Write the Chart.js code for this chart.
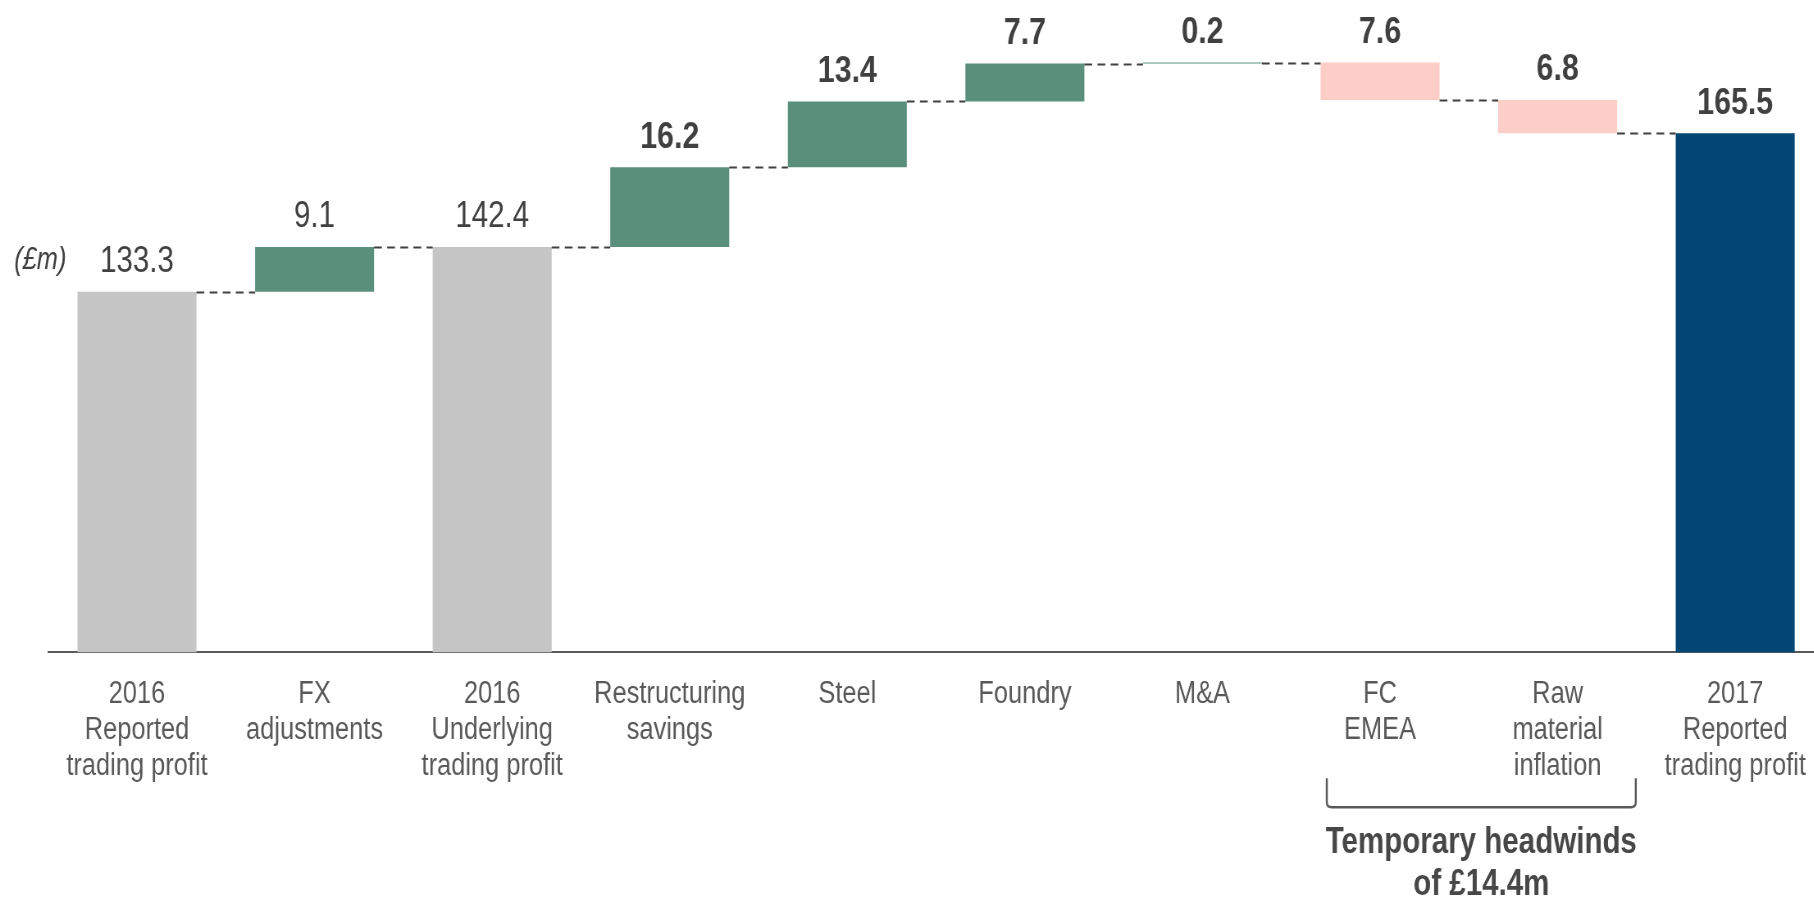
<!DOCTYPE html>
<html>
<head>
<meta charset="utf-8">
<script src="https://cdn.jsdelivr.net/npm/chart.js@4.4.1/dist/chart.umd.min.js"></script>
<style>
  html, body { margin: 0; padding: 0; overflow: hidden; background: #fff; }
  #wrap { width: 1814px; height: 899px; overflow: hidden; }
  /* the reference uses a narrow face: squeeze a regular Arial-metric font horizontally */
  #bridgeChart { transform: scaleX(0.82); transform-origin: 0 0; }
</style>
</head>
<body>
<div id="wrap"><canvas id="bridgeChart" width="2250" height="899"></canvas></div>
<script>
const categories = [
    ['2016', 'Reported', 'trading profit'],
    ['FX', 'adjustments'],
    ['2016', 'Underlying', 'trading profit'],
    ['Restructuring', 'savings'],
    'Steel',
    'Foundry',
    'M&A',
    ['FC', 'EMEA'],
    ['Raw', 'material', 'inflation'],
    ['2017', 'Reported', 'trading profit']
];
const changes = [133.3, 9.1, 142.4, 16.2, 13.4, 7.7, 0.2, -7.6, -6.8, 165.5];
const isTotal = [true, false, true, false, false, false, false, false, false, true];
const boldValue = [false, false, false, true, true, true, true, true, true, true];
const yMin = 60;
const yMax = 188;

const S = 0.82; // horizontal squeeze applied by css
const FONT = "'Liberation Sans', Arial, sans-serif";

// floating bars from a running total
let running = 0;
const floats = changes.map((v, i) => {
    if (isTotal[i]) { running = v; return [0, v]; }
    const start = running;
    running = +(running + v).toFixed(1);
    return [start, running];
});

const colours = changes.map((v, i) => {
    if (isTotal[i]) return i === changes.length - 1 ? '#034674' : '#c5c5c5';
    return v >= 0 ? '#5a8f7b' : '#fdcdc7';
});

const bridgeExtras = {
    id: 'bridgeExtras',
    afterDatasetsDraw(chart) {
        const {ctx, chartArea} = chart;
        const meta = chart.getDatasetMeta(0);
        const y = chart.scales.y;
        const x = chart.scales.x;
        ctx.save();

        // dashed connectors
        ctx.strokeStyle = '#404040';
        ctx.lineWidth = 2;
        ctx.setLineDash([9.5, 6.5]);
        for (let i = 0; i < meta.data.length - 1; i++) {
            const a = meta.data[i], b = meta.data[i + 1];
            const py = Math.round(y.getPixelForValue(floats[i][1])) + 0.5;
            ctx.beginPath();
            ctx.moveTo(a.x + a.width / 2, py);
            ctx.lineTo(b.x - b.width / 2, py);
            ctx.stroke();
        }
        ctx.setLineDash([]);

        // value labels
        ctx.fillStyle = '#404040';
        ctx.textAlign = 'center';
        ctx.textBaseline = 'middle';
        meta.data.forEach((bar, i) => {
            const top = y.getPixelForValue(Math.max(floats[i][0], floats[i][1]));
            ctx.font = (boldValue[i] ? 'bold 37px ' : '36px ') + FONT;
            ctx.fillText(Math.abs(changes[i]).toFixed(1), bar.x, top - 30);
        });

        // unit label
        ctx.font = 'italic 31px ' + FONT;
        ctx.textAlign = 'left';
        ctx.fillText('(£m)', chartArea.left - 41.5, chartArea.top + 238);

        // bracket under the headwinds
        const cw = x.getPixelForValue(1) - x.getPixelForValue(0);
        const bl = x.getPixelForValue(7) - 0.3 * cw;
        const br = x.getPixelForValue(8) + 0.44 * cw;
        const bt = chartArea.bottom + 126;
        const bb = chartArea.bottom + 155;
        ctx.strokeStyle = '#595959';
        ctx.lineWidth = 2.4;
        ctx.beginPath();
        ctx.moveTo(bl, bt);
        ctx.lineTo(bl, bb - 5);
        ctx.quadraticCurveTo(bl, bb, bl + 6, bb);
        ctx.lineTo(br - 6, bb);
        ctx.quadraticCurveTo(br, bb, br, bb - 5);
        ctx.lineTo(br, bt);
        ctx.stroke();

        ctx.fillStyle = '#474747';
        ctx.textAlign = 'center';
        ctx.font = 'bold 36px ' + FONT;
        const cx = (bl + br) / 2;
        ctx.fillText('Temporary headwinds', cx, chartArea.bottom + 191);
        ctx.fillText('of £14.4m', cx, chartArea.bottom + 233);
        ctx.restore();
    }
};

const ctx = document.getElementById('bridgeChart').getContext('2d');
new Chart(ctx, {
    type: 'bar',
    data: {
        labels: categories,
        datasets: [{
            data: floats,
            backgroundColor: colours,
            borderWidth: 0,
            borderSkipped: false,
            categoryPercentage: 1,
            barPercentage: 0.67
        }]
    },
    options: {
        responsive: false,
        animation: false,
        layout: {padding: {left: 48.2 / S, right: 2250 - 1824 / S, top: 22.7, bottom: 0}},
        plugins: {legend: {display: false}, tooltip: {enabled: false}},
        scales: {
            x: {
                grid: {display: false, drawTicks: false},
                border: {display: true, color: '#595959', width: 2},
                ticks: {
                    color: '#595959',
                    font: {family: FONT, size: 31, lineHeight: 1.16},
                    padding: 24,
                    autoSkip: false,
                    maxRotation: 0
                },
                afterFit(scale) { scale.height = 899 - 652.3; }
            },
            y: {
                display: false,
                min: yMin,
                max: yMax
            }
        }
    },
    plugins: [bridgeExtras]
});
</script>
</body>
</html>
